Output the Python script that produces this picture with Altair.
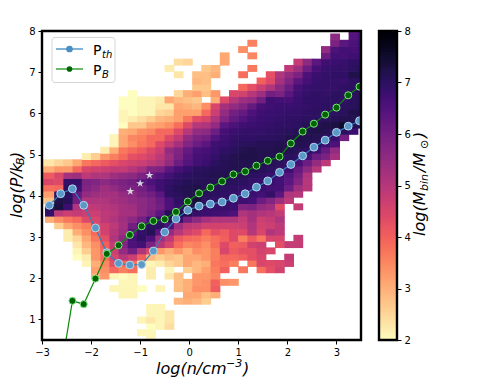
import altair as alt
import pandas as pd

# heat-map cells: row index -> [(first column, [log mass ...]), ...]
R49 = [(33, [6.35, 6.55])]
R48 = [(31, [5.6]), (33, [6.45, 6.65])]
R47 = [(22, [3.6]), (31, [5.85, 6.35, 6.55, 6.75])]
R46 = [(21, [3.4]), (30, [5.5, 6.55, 6.7, 6.65, 6.75])]
R45 = [(19, [3.1]), (22, [3.5]), (30, [6.1, 6.7, 6.65, 6.75, 6.8])]
R44 = [(14, [2.4, 2.5]), (19, [3.1]), (27, [4.8, 5.6, 6.35, 6.75, 6.8, 6.85, 6.95, 7.0])]
R43 = [(13, [2.2]), (17, [2.7, 2.9]), (22, [3.7]), (26, [4.9, 5.35, 6.1, 6.65, 6.85, 6.9, 6.9, 7.0, 7.1])]
R42 = [(14, [2.3]), (16, [2.8, 2.8, 3.0]), (21, [3.8]), (24, [4.3, 5.1, 5.5, 5.85, 6.55, 6.8, 6.9, 6.95, 6.95, 7.2, 7.15])]
R41 = [(16, [2.9, 2.8]), (23, [4.0, 4.4, 5.25, 5.75, 6.35, 6.65, 6.85, 6.9, 6.9, 6.85, 7.0, 7.0])]
R40 = [(16, [2.7, 2.7]), (21, [3.9, 4.3, 4.7, 5.1, 5.6, 6.1, 6.65, 6.85, 6.9, 6.9, 6.9, 6.95, 7.0, 7.0])]
R39 = [(9, [2.0]), (14, [2.5, 3.0, 3.2, 2.8, 3.3]), (20, [4.5, 4.6, 5.0, 5.35, 6.0, 5.85, 6.35, 6.75, 6.9, 6.95, 6.9, 7.0, 7.0, 7.05, 7.1])]
R38 = [(8, [2.0, 2.0, 2.1, 2.1, 2.2, 3.1, 2.9, 2.8, 2.7]), (18, [3.0, 4.4, 5.0, 5.35, 5.5, 6.0, 6.75, 6.7, 6.65, 6.8, 6.95, 6.95, 6.95, 7.0, 6.9, 7.05, 7.1])]
R37 = [(8, [2.0, 2.0, 2.1, 2.1, 2.3, 2.3, 3.1, 3.0, 2.9, 3.4, 4.5, 5.25, 5.5, 5.75, 6.2, 6.65, 6.75, 6.8, 6.8, 6.85, 6.9, 6.95, 7.0, 6.95, 7.0, 7.05, 7.15])]
R36 = [(8, [2.1, 2.0, 2.1, 2.1, 2.5, 2.6, 3.2, 3.2, 3.2, 3.9, 4.7, 5.5, 6.0, 6.2, 6.55, 6.75, 6.8, 6.85, 6.9, 6.9, 6.95, 7.0, 7.0, 7.0, 7.05, 7.2, 7.2])]
R35 = [(8, [2.1, 2.2, 2.4, 2.6, 2.9, 3.0, 3.2, 3.7, 4.3, 4.5, 5.1, 5.75, 6.2, 6.45, 6.7, 6.8, 6.85, 6.9, 6.95, 6.95, 7.0, 7.0, 7.05, 7.1, 7.15, 7.15, 7.1])]
R34 = [(8, [2.0, 2.7, 2.7, 3.1, 3.2, 3.4, 3.8, 4.4, 5.0, 5.1, 5.5, 6.35, 6.55, 6.75, 6.8, 6.85, 6.9, 6.95, 6.95, 7.0, 7.1, 7.15, 7.2, 7.3, 7.5, 7.15, 6.95])]
R33 = [(8, [3.0, 3.1, 3.4, 3.5, 3.9, 3.9, 4.4, 5.0, 5.5, 5.6, 6.1, 6.65, 6.8, 6.9, 6.9, 6.9, 6.95, 7.0, 7.05, 7.1, 7.15, 7.2, 7.15, 7.05, 7.0, 6.8])]
R32 = [(7, [2.1, 3.1, 3.5, 3.6, 3.9, 3.9, 4.4, 4.8, 5.5, 5.85, 6.0, 6.45, 6.75, 6.9, 6.95, 6.95, 7.0, 7.0, 7.05, 7.15, 7.2, 7.15, 7.1, 6.95, 6.85, 6.0])]
R31 = [(7, [2.1, 3.1, 3.4, 3.7, 3.9, 4.4, 4.8, 5.25, 5.75, 6.1, 6.35, 6.75, 6.8, 6.95, 7.05, 7.05, 7.1, 7.1, 7.15, 7.2, 7.15, 7.1, 7.0, 6.75, 6.55])]
R30 = [(6, [2.2, 3.0, 3.7, 3.9, 4.1, 4.4, 4.7, 5.5, 5.75, 6.2, 6.55, 6.65, 6.8, 6.95, 7.05, 7.15, 7.2, 7.15, 7.15, 7.2, 7.15, 7.05, 6.95, 6.75, 6.2, 5.5])]
R29 = [(4, [2.2, 2.6, 3.3, 3.6, 3.9, 4.3, 4.4, 4.6, 4.9, 5.35, 5.85, 6.35, 6.65, 6.75, 6.9, 7.05, 7.15, 7.2, 7.2, 7.15, 7.15, 7.1, 7.05, 6.95, 6.7, 6.1, 5.85, 5.25])]
R28 = [(-1, [2.3, 2.3, 2.5, 2.7, 3.1, 3.7, 3.9, 4.1, 4.3, 4.5, 4.6, 4.7, 4.9, 5.1, 5.5, 6.1, 6.45, 6.7, 6.8, 7.0, 7.1, 7.15, 7.15, 7.15, 7.15, 7.1, 7.05, 6.95, 6.65, 6.1, 5.5, 4.9])]
R27 = [(-1, [3.0, 3.0, 3.3, 3.3, 3.9, 4.5, 4.6, 4.7, 4.8, 4.8, 5.0, 5.25, 5.75, 5.85, 6.35, 6.65, 6.85, 7.0, 7.05, 7.1, 7.1, 7.15, 7.15, 7.15, 7.1, 7.0, 6.9, 6.75, 6.2, 5.6, 5.0])]
R26 = [(-1, [4.1, 4.1, 4.5, 5.25, 5.35, 4.9, 5.1, 5.1, 5.35, 5.5, 5.6, 5.85, 6.2, 6.45, 6.7, 6.9, 7.0, 7.05, 7.1, 7.15, 7.15, 7.15, 7.1, 7.0, 6.95, 6.85, 6.75, 6.45, 6.0, 5.1])]
R25 = [(-1, [4.5, 4.5, 4.4, 6.9, 6.9, 5.85, 5.75, 5.6, 5.75, 5.85, 6.0, 6.35, 6.55, 6.75, 6.9, 7.0, 7.1, 7.1, 7.1, 7.1, 7.1, 7.05, 7.0, 6.9, 6.85, 6.8, 6.7, 6.35, 5.75, 5.0])]
R24 = [(-1, [3.8, 3.8, 3.9, 7.0, 6.75, 5.75, 5.6, 5.35, 5.5, 5.75, 5.85, 6.0, 6.35, 6.75, 6.95, 7.1, 7.15, 7.2, 7.1, 7.05, 7.0, 6.95, 6.9, 6.85, 6.8, 6.7, 6.7, 6.1, 5.35, 5.0])]
R23 = [(-1, [3.2, 3.2, 6.95, 7.0, 6.2, 5.5, 5.35, 5.25, 5.25, 5.5, 5.6, 5.85, 6.0, 6.35, 6.95, 7.05, 7.15, 7.2, 7.05, 7.0, 6.95, 6.9, 6.85, 6.8, 6.7, 6.9, 6.35, 5.1, 5.0])]
R22 = [(-1, [2.6, 2.8, 7.2, 7.1, 6.0, 5.1, 5.1, 5.1, 5.25, 5.35, 5.5, 5.6, 5.75, 6.1, 6.55, 6.95, 7.15, 7.35, 6.95, 6.9, 6.9, 6.85, 6.75, 6.7, 6.1, 5.75, 5.35, 4.9])]
R21 = [(0, [7.0, 7.3, 6.8, 5.1, 4.8, 4.9, 5.0, 5.1, 5.25, 5.35, 5.6, 5.75, 6.0, 6.55, 6.85, 7.15, 7.3, 6.85, 6.85, 6.85, 6.8, 5.75, 5.85, 5.5, 5.35, 4.4]), (27, [4.8])]
R20 = [(0, [6.9, 4.9, 4.7, 4.8, 4.7, 4.7, 4.9, 5.0, 5.25, 5.25, 5.6, 5.85, 6.35, 7.1, 7.2, 7.1, 6.9, 6.8, 6.75, 6.7, 6.55, 5.1, 5.25, 5.1, 5.0, 4.8])]
R19 = [(0, [3.0, 3.4, 3.7, 3.9, 4.4, 4.5, 4.9, 5.1, 5.35, 5.6, 6.0, 6.65, 6.9, 7.1, 6.85, 6.0, 5.6, 5.25, 5.1, 5.1, 5.1, 4.8, 5.25, 4.7, 4.8, 5.1])]
R18 = [(1, [2.6, 3.1, 3.4, 3.6, 4.4, 4.6, 4.9, 5.25, 6.0, 6.75, 7.0, 7.0, 6.55, 5.35, 4.9, 4.8, 4.6, 4.6, 4.6, 4.6, 4.7, 5.1, 4.6, 4.7, 4.9])]
R17 = [(2, [2.2, 3.0, 3.4, 3.9, 4.6, 5.0, 5.35, 6.35, 6.9, 7.1, 6.35, 5.5, 5.0, 4.6, 4.4, 3.9, 4.3, 4.1, 4.4, 4.4, 5.0, 4.5, 5.1, 4.9])]
R16 = [(2, [2.2, 2.5, 3.1, 3.7, 4.3, 5.1, 5.6, 6.65, 6.95, 6.55, 5.35, 4.9, 4.1, 3.9, 3.8, 3.6, 3.8, 4.0, 4.4, 3.6, 4.1, 3.7, 4.5, 4.5]), (27, [4.8])]
R15 = [(3, [2.3, 2.9, 3.4, 4.0, 4.8, 5.75, 6.55, 6.7, 5.85, 5.0, 4.5, 3.8, 3.5, 3.6, 3.4, 3.8, 4.4, 4.0, 4.1, 4.6, 4.7]), (25, [4.3, 4.8, 4.8])]
R14 = [(3, [2.1, 2.6, 3.3, 3.9, 4.7, 5.5, 6.0, 5.1, 4.5, 3.3, 3.0, 3.3, 3.0, 3.4, 3.3, 3.6, 4.5, 4.1, 4.3, 4.3, 4.6, 4.5])]
R13 = [(3, [2.0, 2.2, 3.3, 3.8, 4.5, 5.0, 4.7, 4.0, 2.9, 2.6, 2.8, 2.7, 3.1, 3.1, 3.3, 3.6, 3.9, 3.9, 4.0, 4.3, 4.5]), (26, [4.8])]
R12 = [(4, [2.1, 3.0, 3.5, 4.3, 3.9, 3.8, 2.2, 2.1, 2.2, 2.5, 2.7, 3.1, 2.9, 3.0, 3.7, 3.8, 3.6]), (22, [3.7, 4.5, 4.4, 4.5, 4.7])]
R11 = [(5, [3.2, 3.4, 3.9, 3.6, 3.8]), (11, [2.2]), (13, [2.1]), (15, [2.6, 2.9, 3.2, 3.6, 4.0]), (21, [3.7]), (23, [3.8, 4.3, 4.6])]
R10 = [(5, [3.0, 3.3, 2.1, 2.0, 2.1]), (11, [2.2]), (13, [2.3, 2.8]), (16, [3.3, 3.3, 3.5])]
R09 = [(8, [2.1, 2.1]), (14, [2.8, 3.0, 3.3, 3.4, 4.0, 3.4, 3.3])]
R08 = [(7, [2.1, 2.1, 2.1, 2.0]), (12, [2.1]), (14, [2.8, 3.0, 3.4, 3.4, 4.1])]
R07 = [(8, [2.1, 2.1]), (15, [3.1, 3.1, 2.8, 3.0])]
R06 = [(14, [2.9, 3.0, 2.9, 2.6])]
R05 = [(11, [2.1, 2.1])]
R04 = [(11, [2.1, 2.1, 2.3])]
R03 = [(10, [2.1, 2.3, 2.1, 2.3])]
R02 = [(11, [2.0, 2.1, 2.4])]
R01 = [(10, [2.1, 2.1])]
R00 = [(11, [2.1])]
ROWS = [R00, R01, R02, R03, R04, R05, R06, R07, R08, R09, R10, R11, R12, R13, R14, R15, R16,
        R17, R18, R19, R20, R21, R22, R23, R24, R25, R26, R27, R28, R29, R30, R31, R32, R33,
        R34, R35, R36, R37, R38, R39, R40, R41, R42, R43, R44, R45, R46, R47, R48, R49]

# binned edges of the histogram (cells overlap a hair so no seams show)
X_EDGE0, X_STEP, X_OVER = -2.94, 0.1875, 0.012
Y_EDGE0, Y_STEP, Y_OVER = 0.441, 0.1527, 0.016

# the two pressure curves
log_n = [-2.85, -2.62, -2.38, -2.15, -1.91, -1.68, -1.44, -1.21, -0.97, -0.73, -0.50, -0.27, -0.03,
         0.20, 0.43, 0.67, 0.90, 1.14, 1.37, 1.60, 1.84, 2.07, 2.31, 2.54, 2.77, 3.00, 3.24, 3.47]
p_th = [3.77, 4.05, 4.17, 3.77, 3.22, 2.62, 2.36, 2.32, 2.33, 2.66, 3.12, 3.44, 3.65,
        3.75, 3.80, 3.85, 3.94, 4.05, 4.21, 4.36, 4.57, 4.76, 4.97, 5.18, 5.35, 5.54, 5.69, 5.82]
log_n_b = log_n[1:]
p_b = [-0.29, 1.45, 1.37, 1.99, 2.59, 2.80, 3.05, 3.26, 3.39, 3.43, 3.61, 3.86,
       4.06, 4.20, 4.35, 4.52, 4.59, 4.73, 4.85, 4.95, 5.27, 5.56, 5.75, 5.97, 6.14, 6.44, 6.65]

star_x = [-1.20, -1.00, -0.81]
star_y = [4.11, 4.30, 4.50]

STAR = ("M0,-1L0.2245,-0.309L0.951,-0.309L0.363,0.118L0.588,0.809L0,0.382"
        "L-0.588,0.809L-0.363,0.118L-0.951,-0.309L-0.2245,-0.309Z")

cells = []
for j, row in enumerate(ROWS):
    for start, vals in row:
        for i, v in enumerate(vals):
            k = start + i
            cells.append({"x": X_EDGE0 + X_STEP * k, "x2": X_EDGE0 + X_STEP * (k + 1) + X_OVER,
                          "y": Y_EDGE0 + Y_STEP * j, "y2": Y_EDGE0 + Y_STEP * (j + 1) + Y_OVER, "v": v})
cells = pd.DataFrame(cells)

color_scale = alt.Scale(scheme="magma", reverse=True, domain=[2, 8])
xs = alt.Scale(domain=[-3, 3.5], nice=False, zero=False)
ys = alt.Scale(domain=[0.5, 8], nice=False, zero=False)
FONT = "DejaVu Sans"

heat = alt.Chart(cells).mark_rect(clip=True, opacity=1).encode(
    x=alt.X("x:Q", scale=xs,
            axis=alt.Axis(values=[-3, -2, -1, 0, 1, 2, 3], grid=False, domain=False, tickColor="black",
                          tickSize=4, labelFontSize=10, labelColor="black", labelFont=FONT, labelPadding=3,
                          labelFlush=False, labelOverlap=False, title=None)),
    x2="x2:Q",
    y=alt.Y("y:Q", scale=ys,
            axis=alt.Axis(values=[1, 2, 3, 4, 5, 6, 7, 8], grid=False, domain=False, tickColor="black",
                          tickSize=4, labelFontSize=10, labelColor="black", labelFont=FONT, labelPadding=3,
                          labelFlush=False, labelOverlap=False, title=None)),
    y2="y2:Q",
    color=alt.Color("v:Q", scale=color_scale, legend=None),
).properties(width=319, height=309)

th_df = pd.DataFrame({"x": log_n, "y": p_th})
b_df = pd.DataFrame({"x": log_n_b, "y": p_b})
X, Y = alt.X("x:Q", scale=xs), alt.Y("y:Q", scale=ys)

th_line = alt.Chart(th_df).mark_line(clip=True, color="#2f7fbd", strokeWidth=1.2).encode(x=X, y=Y)
th_pts = alt.Chart(th_df).mark_point(clip=True, filled=True, size=62, fill="#5b9ac8", fillOpacity=1,
                                     stroke="#b5d8ea", strokeWidth=1, opacity=1).encode(x=X, y=Y)
b_line = alt.Chart(b_df).mark_line(clip=True, color="#0a8a0a", strokeWidth=1.2).encode(x=X, y=Y)
b_pts = alt.Chart(b_df).mark_point(clip=True, filled=True, size=50, fill="#006400", fillOpacity=1,
                                   stroke="#86e886", strokeWidth=1, opacity=1).encode(x=X, y=Y)
stars = alt.Chart(pd.DataFrame({"x": star_x, "y": star_y})).mark_point(
    filled=True, shape=STAR, size=72, color="#d8d4dc", opacity=1).encode(x=X, y=Y)


def label(text, px, py, size=16, style="oblique", angle=0):
    return alt.Chart(pd.DataFrame({"t": [text]})).mark_text(
        font=FONT, fontSize=size, fontStyle=style, color="black", align="left",
        baseline="alphabetic", angle=angle, clip=False,
    ).encode(x=alt.value(px), y=alt.value(py), text="t:N")


def frame(w, h):
    return alt.Chart(pd.DataFrame({"a": [0]})).mark_rect(
        fill=None, stroke="black", strokeWidth=2.4, clip=False,
    ).encode(x=alt.value(0), x2=alt.value(w), y=alt.value(0), y2=alt.value(h))


legend_box = alt.Chart(pd.DataFrame({"a": [0]})).mark_rect(
    fill="white", fillOpacity=0.85, stroke="#d5d5d5", strokeWidth=1, cornerRadius=3,
).encode(x=alt.value(10), x2=alt.value(73), y=alt.value(6.5), y2=alt.value(51.5))


def legend_key(py, line_col, pt_col, size):
    line = alt.Chart(pd.DataFrame({"a": [0]})).mark_rule(color=line_col, strokeWidth=1.2).encode(
        x=alt.value(14), x2=alt.value(41), y=alt.value(py))
    pt = alt.Chart(pd.DataFrame({"a": [0]})).mark_point(filled=True, size=size, color=pt_col, opacity=1).encode(
        x=alt.value(27.5), y=alt.value(py))
    return line + pt


main = alt.layer(
    heat, th_line, th_pts, b_line, b_pts, stars,
    legend_box,
    legend_key(18, "#2f7fbd", "#4a8fc2", 45),
    legend_key(38, "#0a8a0a", "#006400", 32),
    label("P", 51, 24, 14, "normal"), label("th", 60, 27, 10),
    label("P", 51, 44, 14, "normal"), label("B", 60, 47, 10),
    frame(319, 309),
    label("log(P/k", -20.3, 187, 16, angle=270),
    label("B", -18, 134, 11, angle=270),
    label(")", -20.3, 127, 16, angle=270),
    label("log(n/cm", 114, 343, 16),
    label("−3", 184, 336, 11),
    label(")", 201, 343, 16),
).resolve_scale(x="shared", y="shared").properties(width=319, height=309)

bar_levels = [2 + 0.05 * i for i in range(120)]
bar_df = pd.DataFrame({"y": bar_levels, "y2": [min(v + 0.07, 8) for v in bar_levels], "v": [v + 0.025 for v in bar_levels]})
bar = alt.Chart(bar_df).mark_rect(opacity=1).encode(
    x=alt.value(0), x2=alt.value(18),
    y=alt.Y("y:Q", scale=alt.Scale(domain=[2, 8], nice=False, zero=False),
            axis=alt.Axis(orient="right", values=[2, 3, 4, 5, 6, 7, 8], grid=False, domain=False, tickColor="black",
                          tickSize=4, labelFontSize=10, labelColor="black", labelFont=FONT, labelPadding=3,
                          labelFlush=False, labelOverlap=False, title=None)),
    y2="y2:Q",
    color=alt.Color("v:Q", scale=color_scale, legend=None),
)
cbar = alt.layer(
    bar, frame(18, 309),
    label("log(M", 46, 205, 16, angle=270),
    label("bin", 49, 160, 11, angle=270),
    label("/M", 46, 141, 16, angle=270),
    label("⊙", 49, 118, 11, "normal", angle=270),
    label(")", 46, 107, 16, angle=270),
).properties(width=18, height=309)

chart = alt.hconcat(main, cbar, spacing=14, padding={"left": 0, "top": 18, "right": 0, "bottom": 0}).configure_view(stroke=None)
chart.save("out.html", embed_options={"renderer": "svg", "actions": False})
